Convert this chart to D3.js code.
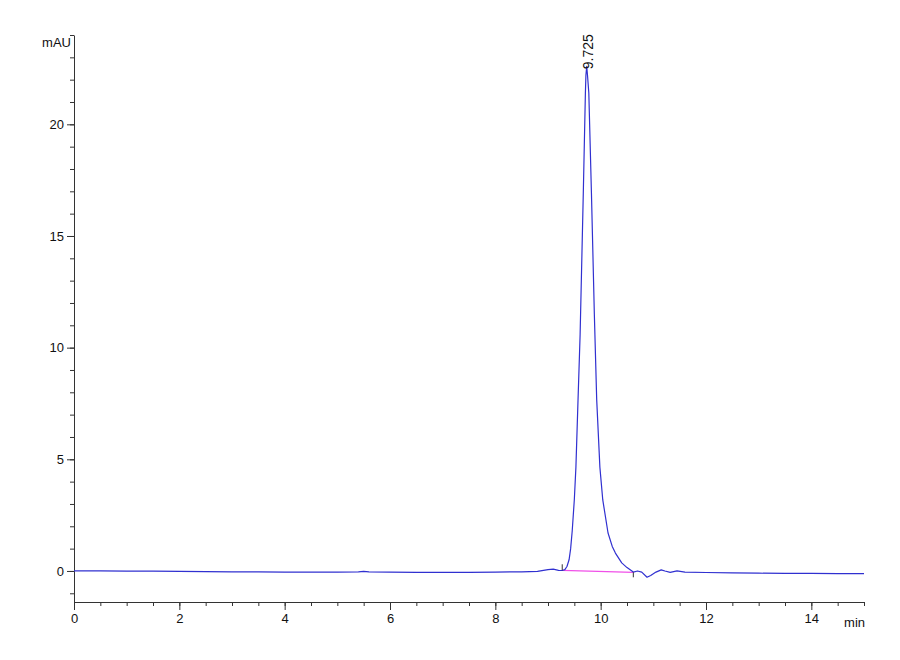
<!DOCTYPE html>
<html lang="en">
    <head>
        <meta charset="utf-8">
        <title>Chromatogram</title>
        <script type="text/javascript" src="https://cdn.jsdelivr.net/npm/d3@7/dist/d3.min.js"></script>
        <style>
            body {
              margin: 0;
              background-color: white;
            }
            .axis text{
              font-family: "Liberation Sans", Arial, sans-serif;
              font-size: 13px;
              fill: #111;
            }
            .axis path, .axis line{
              stroke: #333;
              stroke-width: 1;
            }
            .trace{
              fill: none;
              stroke: #3030d0;
              stroke-width: 1.2;
              stroke-linejoin: round;
            }
            .baseline{
              stroke: #f050e8;
              stroke-width: 1.3;
            }
            .marker{
              stroke: #333;
              stroke-width: 1;
            }
            .label{
              font-family: "Liberation Sans", Arial, sans-serif;
              font-size: 13px;
              fill: #111;
            }
            .peak_label{
              font-family: "Liberation Sans", Arial, sans-serif;
              font-size: 14px;
              fill: #111;
            }
        </style>
    </head>
    <body>
        <script type = 'text/javascript'>
          var width = 900;
          var height = 660;

          // retention time (min) and signal (mAU)
          var times = [0, 0.5, 1.0, 1.5, 2.0, 2.5, 3.0, 3.5, 4.0, 4.5, 5.0, 5.4, 5.5, 5.6, 6.0, 6.5, 7.0, 7.5, 8.0, 8.5, 8.8,
                       9.0, 9.1, 9.2, 9.27, 9.32, 9.36, 9.4, 9.43, 9.46, 9.5, 9.53, 9.57, 9.61, 9.67, 9.71, 9.72, 9.735, 9.75,
                       9.775, 9.825, 9.88, 9.925, 9.985, 10.04, 10.14, 10.22, 10.28, 10.4, 10.5, 10.62, 10.7, 10.78, 10.88,
                       10.95, 11.05, 11.15, 11.22, 11.32, 11.45, 11.6, 12.0, 12.5, 13.0, 13.5, 14.0, 14.5, 15.0];
          var signal = [0.0, 0.0, -0.01, -0.01, -0.02, -0.03, -0.04, -0.04, -0.05, -0.05, -0.05, -0.04, -0.02, -0.04, -0.05, -0.06, -0.06, -0.06, -0.05, -0.04, -0.02,
                        0.06, 0.08, 0.03, 0.02, 0.06, 0.2, 0.5, 1.0, 1.8, 3.2, 4.65, 7.65, 10.6, 16.9, 21.4, 22.2, 22.6, 22.2,
                        21.4, 16.9, 11.5, 7.65, 4.65, 3.18, 1.7, 1.1, 0.8, 0.36, 0.15, -0.05, 0.0, -0.05, -0.28,
                        -0.2, -0.05, 0.05, 0.0, -0.06, 0.0, -0.05, -0.07, -0.09, -0.1, -0.11, -0.11, -0.12, -0.12];

          var xTicks = [0, 2, 4, 6, 8, 10, 12, 14];
          var yTicks = [0, 5, 10, 15, 20];

          var peakTime = 9.725;
          var peakHeight = 22.6;
          var peakLabel = '9.725';
          // integration baseline start / end (min, mAU)
          var baseStart = [9.27, 0.03];
          var baseEnd = [10.62, -0.06];

          var xMin = 0, xMax = 15, yMin = -1.39, yMax = 24;

          var svg = d3.select('body').append('svg')
                .attr('width', width)
                .attr('height', height);

          var x = d3.scaleLinear().domain([xMin, xMax]).range([74, 864]);
          var y = d3.scaleLinear().domain([yMin, yMax]).range([602, 35]);

          var points = times.map(function(t, i){
            return [t, signal[i]];
          });

          // minor ticks first
          svg.append('g')
             .attr('class', 'axis')
             .attr('transform', 'translate(0,' + y(yMin) + ')')
             .call(d3.axisBottom(x).tickValues(d3.range(xMin, xMax + 0.01, 0.5)).tickSize(4).tickFormat(''))
             .select('.domain').remove();
          svg.append('g')
             .attr('class', 'axis')
             .attr('transform', 'translate(' + x(xMin) + ',0)')
             .call(d3.axisLeft(y).tickValues(d3.range(-1, 24.5, 1)).tickSize(4).tickFormat(''))
             .select('.domain').remove();

          var xAxis = svg.append('g')
             .attr('class', 'axis')
             .attr('transform', 'translate(0,' + y(yMin) + ')')
             .call(d3.axisBottom(x).tickValues(xTicks).tickSize(8).tickSizeOuter(0).tickPadding(4).tickFormat(d3.format('d')));
          var yAxis = svg.append('g')
             .attr('class', 'axis')
             .attr('transform', 'translate(' + x(xMin) + ',0)')
             .call(d3.axisLeft(y).tickValues(yTicks).tickSize(7).tickSizeOuter(0).tickPadding(3).tickFormat(d3.format('d')));

          svg.append('text')
             .attr('class', 'label')
             .attr('x', x(xMin) - 3)
             .attr('y', 47)
             .attr('text-anchor', 'end')
             .text('mAU');
          svg.append('text')
             .attr('class', 'label')
             .attr('x', x(xMax) + 1)
             .attr('y', 627)
             .attr('text-anchor', 'end')
             .text('min');

          // integration baseline
          svg.append('line')
             .attr('class', 'baseline')
             .attr('x1', x(baseStart[0]))
             .attr('y1', y(baseStart[1]))
             .attr('x2', x(baseEnd[0]))
             .attr('y2', y(baseEnd[1]));

          var line = d3.line()
                .x(function(d){ return x(d[0]); })
                .y(function(d){ return y(d[1]); });

          svg.append('path')
             .datum(points)
             .attr('class', 'trace')
             .attr('d', line);

          // peak start / end markers
          svg.append('line')
             .attr('class', 'marker')
             .attr('x1', x(baseStart[0])).attr('x2', x(baseStart[0]))
             .attr('y1', y(baseStart[1]) - 6).attr('y2', y(baseStart[1]));
          svg.append('line')
             .attr('class', 'marker')
             .attr('x1', x(baseEnd[0])).attr('x2', x(baseEnd[0]))
             .attr('y1', y(baseEnd[1])).attr('y2', y(baseEnd[1]) + 5);

          svg.append('text')
             .attr('class', 'peak_label')
             .attr('transform', 'translate(' + (x(peakTime) + 7) + ',' + (y(peakHeight) + 3) + ') rotate(-90)')
             .attr('text-anchor', 'start')
             .text(peakLabel);
        </script>
    </body>
</html>
